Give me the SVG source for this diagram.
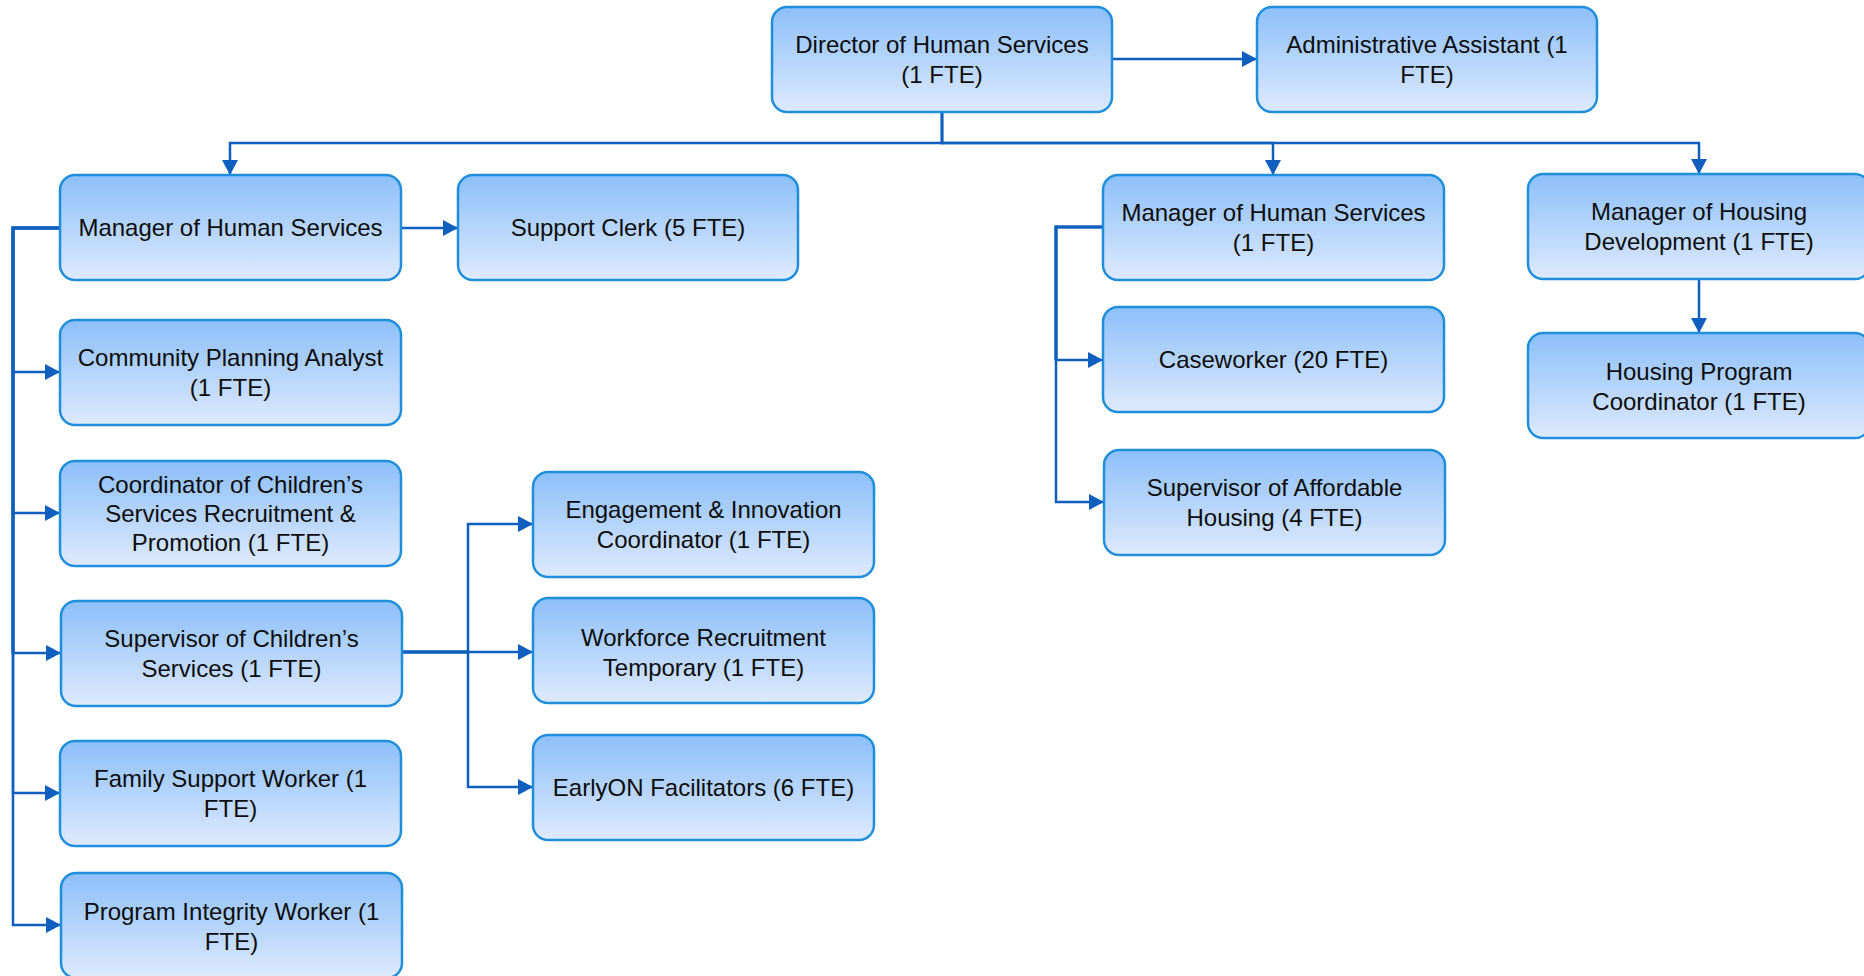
<svg xmlns="http://www.w3.org/2000/svg" width="1864" height="976" viewBox="0 0 1864 976">
  <defs>
    <linearGradient id="boxFill" x1="0" y1="0" x2="0" y2="1">
      <stop offset="0" stop-color="#8cbff9"/>
      <stop offset="1" stop-color="#deeafd"/>
    </linearGradient>
    <marker id="arrow" viewBox="0 0 15 16" refX="15" refY="8" markerWidth="15" markerHeight="16" markerUnits="userSpaceOnUse" orient="auto">
      <path d="M0,0 L15,8 L0,16 Z" fill="#0f5fbf"/>
    </marker>
  </defs>
  <style>
    .box { fill: url(#boxFill); stroke: #1f8fdc; stroke-width: 2.5; }
    .lbl { font-family: "Liberation Sans", Arial, sans-serif; font-size: 24px; fill: #0d0d0d; text-anchor: middle; }
    .conn { fill: none; stroke: #0f5fbf; stroke-width: 2.5; }
    .spine { stroke-width: 3.2; }
    .arr { marker-end: url(#arrow); }
  </style>
  <rect width="1864" height="976" fill="#ffffff"/>

  <!-- connectors -->
  <g id="connectors">
    <path class="conn arr" d="M1112,59 H1257"/>
    <path class="conn arr" d="M942,112 V143 H230 V175"/>
    <path class="conn arr" d="M942,112 V143 H1273 V175"/>
    <path class="conn arr" d="M942,112 V143 H1699 V174"/>
    <path class="conn arr" d="M401,228 H458"/>
    <path class="conn arr" d="M60,228 H13 V372 H60"/>
    <path class="conn arr" d="M60,228 H13 V513 H60"/>
    <path class="conn arr" d="M60,228 H13 V653 H61"/>
    <path class="conn arr" d="M60,228 H13 V793 H60"/>
    <path class="conn arr" d="M60,228 H13 V925 H61"/>
    <path class="conn spine" d="M60,228 H13 V653"/>
    <path class="conn arr" d="M402,652 H468 V524 H533"/>
    <path class="conn arr" d="M402,652 H533"/>
    <path class="conn arr" d="M402,652 H468 V787 H533"/>
    <path class="conn spine" d="M402,652 H468"/>
    <path class="conn arr" d="M1103,227 H1056 V360 H1103"/>
    <path class="conn arr" d="M1103,227 H1056 V502 H1104"/>
    <path class="conn spine" d="M1103,227 H1056 V360"/>
    <path class="conn arr" d="M1699,279 V333"/>
  </g>

  <!-- nodes -->
  <g id="director">
    <rect class="box" x="772" y="7" width="340" height="105" rx="15"/>
    <text class="lbl" x="942" y="53">Director of Human Services<tspan x="942" dy="30">(1 FTE)</tspan></text>
  </g>
  <g id="admin-assistant">
    <rect class="box" x="1257" y="7" width="340" height="105" rx="15"/>
    <text class="lbl" x="1427" y="53">Administrative Assistant (1<tspan x="1427" dy="30">FTE)</tspan></text>
  </g>
  <g id="manager-human-services-a">
    <rect class="box" x="60" y="175" width="341" height="105" rx="15"/>
    <text class="lbl" x="230.5" y="236">Manager of Human Services</text>
  </g>
  <g id="support-clerk">
    <rect class="box" x="458" y="175" width="340" height="105" rx="15"/>
    <text class="lbl" x="628" y="236">Support Clerk (5 FTE)</text>
  </g>
  <g id="manager-human-services-b">
    <rect class="box" x="1103" y="175" width="341" height="105" rx="15"/>
    <text class="lbl" x="1273.5" y="221">Manager of Human Services<tspan x="1273.5" dy="30">(1 FTE)</tspan></text>
  </g>
  <g id="manager-housing-development">
    <rect class="box" x="1528" y="174" width="342" height="105" rx="15"/>
    <text class="lbl" x="1699" y="220">Manager of Housing<tspan x="1699" dy="30">Development (1 FTE)</tspan></text>
  </g>
  <g id="community-planning-analyst">
    <rect class="box" x="60" y="320" width="341" height="105" rx="15"/>
    <text class="lbl" x="230.5" y="366">Community Planning Analyst<tspan x="230.5" dy="30">(1 FTE)</tspan></text>
  </g>
  <g id="caseworker">
    <rect class="box" x="1103" y="307" width="341" height="105" rx="15"/>
    <text class="lbl" x="1273.5" y="368">Caseworker (20 FTE)</text>
  </g>
  <g id="housing-program-coordinator">
    <rect class="box" x="1528" y="333" width="342" height="105" rx="15"/>
    <text class="lbl" x="1699" y="380">Housing Program<tspan x="1699" dy="30">Coordinator (1 FTE)</tspan></text>
  </g>
  <g id="coordinator-childrens-services">
    <rect class="box" x="60" y="461" width="341" height="105" rx="15"/>
    <text class="lbl" x="230.5" y="493">Coordinator of Children’s<tspan x="230.5" dy="29">Services Recruitment &amp;</tspan><tspan x="230.5" dy="29">Promotion (1 FTE)</tspan></text>
  </g>
  <g id="engagement-innovation-coordinator">
    <rect class="box" x="533" y="472" width="341" height="105" rx="15"/>
    <text class="lbl" x="703.5" y="518">Engagement &amp; Innovation<tspan x="703.5" dy="30">Coordinator (1 FTE)</tspan></text>
  </g>
  <g id="supervisor-affordable-housing">
    <rect class="box" x="1104" y="450" width="341" height="105" rx="15"/>
    <text class="lbl" x="1274.5" y="496">Supervisor of Affordable<tspan x="1274.5" dy="30">Housing (4 FTE)</tspan></text>
  </g>
  <g id="supervisor-childrens-services">
    <rect class="box" x="61" y="601" width="341" height="105" rx="15"/>
    <text class="lbl" x="231.5" y="647">Supervisor of Children’s<tspan x="231.5" dy="30">Services (1 FTE)</tspan></text>
  </g>
  <g id="workforce-recruitment-temporary">
    <rect class="box" x="533" y="598" width="341" height="105" rx="15"/>
    <text class="lbl" x="703.5" y="646">Workforce Recruitment<tspan x="703.5" dy="30">Temporary (1 FTE)</tspan></text>
  </g>
  <g id="family-support-worker">
    <rect class="box" x="60" y="741" width="341" height="105" rx="15"/>
    <text class="lbl" x="230.5" y="787">Family Support Worker (1<tspan x="230.5" dy="30">FTE)</tspan></text>
  </g>
  <g id="earlyon-facilitators">
    <rect class="box" x="533" y="735" width="341" height="105" rx="15"/>
    <text class="lbl" x="703.5" y="796">EarlyON Facilitators (6 FTE)</text>
  </g>
  <g id="program-integrity-worker">
    <rect class="box" x="61" y="873" width="341" height="105" rx="15"/>
    <text class="lbl" x="231.5" y="920">Program Integrity Worker (1<tspan x="231.5" dy="30">FTE)</tspan></text>
  </g>
</svg>
